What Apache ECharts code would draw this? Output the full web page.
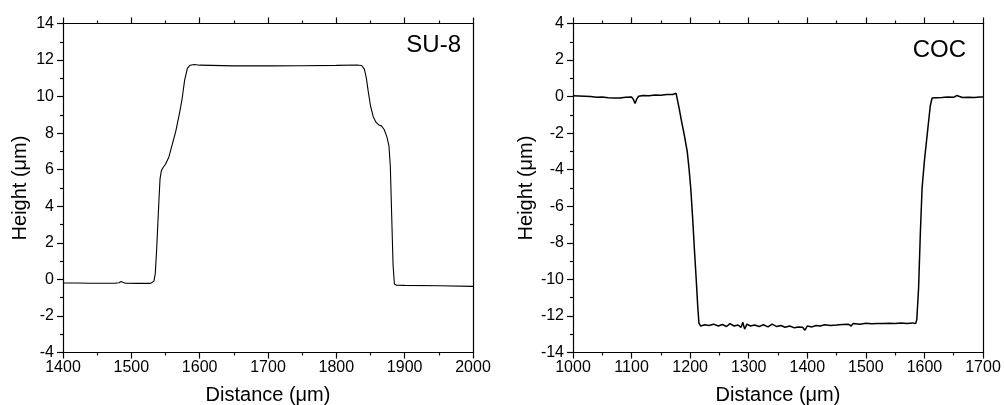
<!DOCTYPE html>
<html>
<head>
<meta charset="utf-8">
<script src="https://cdn.jsdelivr.net/npm/echarts@6/dist/echarts.min.js"></script>
<style>
html,body{margin:0;padding:0;background:#fff;}
#chart{width:1004px;height:405px;}
</style>
</head>
<body>
<div id="chart"></div>
<script>
// ---- Data ----
const su8X = [1400,1420,1440,1460,1475,1482,1485,1488,1492,1510,1528,1530,1533,1535,1537,1539,1540.5,1542,1544,1547,1550,1555,1560,1565,1570,1574,1578,1582,1586,1592,1600,1650,1700,1750,1800,1830,1837,1841,1844,1847,1850,1854,1858,1862,1866,1870,1874,1877,1879,1881,1883,1885,1888,1900,1950,2000];
const su8Y = [-0.20,-0.20,-0.21,-0.21,-0.21,-0.18,-0.12,-0.17,-0.21,-0.22,-0.22,-0.21,-0.10,0.30,1.6,3.2,4.4,5.5,5.95,6.15,6.3,6.7,7.4,8.1,9.0,9.8,10.9,11.55,11.72,11.76,11.72,11.68,11.68,11.69,11.71,11.73,11.70,11.5,11.0,10.2,9.5,8.9,8.6,8.45,8.4,8.2,7.8,7.3,6.2,3.5,0.8,-0.25,-0.32,-0.33,-0.35,-0.38];

const cocX = [1000,1010,1020,1030,1040,1050,1060,1070,1080,1090,1100,1103,1106,1109,1112,1120,1130,1140,1150,1160,1170,1176,1178,1181,1185,1190,1195,1198,1201,1204,1207,1210,1213,1215,1218,
  1225,1232,1240,1248,1255,1262,1268,1275,1282,1287,1290,1293,1297,1303,1310,1318,1325,1333,1340,1348,1355,1362,1370,1378,1385,1392,1396,1400,1408,1415,1422,1430,1440,1450,1460,1470,1475,1478,1490,1500,1510,1520,1530,1540,1550,1560,1570,1580,1585,
  1587,1590,1593,1596,1600,1605,1610,1613,1620,1630,1640,1650,1655,1658,1665,1675,1685,1695,1700];
const cocY = [0.05,0.04,0.02,0.0,-0.03,-0.02,-0.06,-0.08,-0.07,-0.03,-0.02,-0.15,-0.38,-0.12,0.02,0.06,0.05,0.09,0.08,0.11,0.12,0.18,0.12,-0.6,-1.3,-2.1,-3.0,-3.9,-5.0,-6.5,-8.2,-9.8,-11.5,-12.4,-12.55,
  -12.48,-12.52,-12.45,-12.55,-12.47,-12.58,-12.42,-12.55,-12.5,-12.62,-12.35,-12.72,-12.45,-12.55,-12.5,-12.58,-12.48,-12.6,-12.45,-12.58,-12.52,-12.62,-12.55,-12.65,-12.6,-12.62,-12.78,-12.55,-12.6,-12.52,-12.55,-12.48,-12.52,-12.5,-12.47,-12.45,-12.55,-12.42,-12.45,-12.4,-12.43,-12.41,-12.42,-12.40,-12.42,-12.39,-12.41,-12.38,-12.42,
  -12.2,-10.5,-7.5,-5.0,-3.5,-2.0,-0.5,-0.08,-0.06,-0.05,-0.02,-0.04,0.06,-0.04,-0.05,-0.03,-0.05,-0.02,-0.02];

const su8XRange = [1400, 2000, 100];
const su8YRange = [-4, 14, 2];
const cocXRange = [1000, 1700, 100];
const cocYRange = [-14, 4, 2];

const xTitle = 'Distance (\u03bcm)';
const yTitle = 'Height (\u03bcm)';
const panelLabels = ['SU-8', 'COC'];

// ---- Chart ----
const FONT = '"Liberation Sans", Arial, Helvetica, sans-serif';
const black = '#000';
const lineSty = {show:true, onZero:false, lineStyle:{color:black, width:1.2}};
const plain = v => String(v);

function zip(xs, ys){ return xs.map((x,i)=>[x, ys[i]]); }

function xAxes(gi, r){
  return [
    {gridIndex:gi, type:'value', position:'bottom', min:r[0], max:r[1], interval:r[2],
     axisLine:lineSty, splitLine:{show:false},
     axisTick:{show:true, inside:false, length:6, lineStyle:{color:black, width:1.2}},
     minorTick:{show:true, splitNumber:2, length:3, lineStyle:{color:black, width:1.2}},
     axisLabel:{color:black, fontSize:16, fontFamily:FONT, margin:7, formatter:plain},
     name:xTitle, nameLocation:'middle', nameGap:33,
     nameTextStyle:{color:black, fontSize:20, fontFamily:FONT}},
    {gridIndex:gi, type:'value', position:'top', min:r[0], max:r[1], interval:r[2],
     axisLine:lineSty, splitLine:{show:false},
     axisTick:{show:true, inside:false, length:6, lineStyle:{color:black, width:1.2}},
     minorTick:{show:true, splitNumber:2, length:3, lineStyle:{color:black, width:1.2}},
     axisLabel:{show:false}}
  ];
}
function yAxes(gi, r){
  return [
    {gridIndex:gi, type:'value', position:'left', min:r[0], max:r[1], interval:r[2],
     axisLine:lineSty, splitLine:{show:false},
     axisTick:{show:true, inside:false, length:6, lineStyle:{color:black, width:1.2}},
     minorTick:{show:true, splitNumber:2, length:3, lineStyle:{color:black, width:1.2}},
     axisLabel:{color:black, fontSize:16, fontFamily:FONT, margin:9, formatter:plain},
     name:yTitle, nameLocation:'middle', nameGap:33,
     nameTextStyle:{color:black, fontSize:20, fontFamily:FONT}},
    {gridIndex:gi, type:'value', position:'right', min:r[0], max:r[1], interval:r[2],
     axisLine:lineSty, splitLine:{show:false},
     axisTick:{show:false}, minorTick:{show:false}, axisLabel:{show:false}}
  ];
}

const chart = echarts.init(document.getElementById('chart'), null, {renderer:'canvas'});
chart.setOption({
  animation:false,
  backgroundColor:'#fff',
  grid:[
    {left:63, right:531, top:23.5, bottom:52.5, outerBoundsMode:'none'},
    {left:573, right:21, top:23.5, bottom:52.5, outerBoundsMode:'none'}
  ],
  xAxis:[...xAxes(0, su8XRange), ...xAxes(1, cocXRange)],
  yAxis:[...yAxes(0, su8YRange), ...yAxes(1, cocYRange)],
  series:[
    {type:'line', xAxisIndex:0, yAxisIndex:0, data:zip(su8X, su8Y), showSymbol:false,
     lineStyle:{color:black, width:1.1}, itemStyle:{color:black}},
    {type:'line', xAxisIndex:2, yAxisIndex:2, data:zip(cocX, cocY), showSymbol:false,
     lineStyle:{color:black, width:1.5}, itemStyle:{color:black}}
  ],
  graphic:[
    {type:'text', x:461, y:33, style:{text:panelLabels[0], align:'right', verticalAlign:'top', font:'24px ' + FONT, fill:black}},
    {type:'text', x:966, y:38, style:{text:panelLabels[1], align:'right', verticalAlign:'top', font:'24px ' + FONT, fill:black}}
  ]
});
</script>
</body>
</html>
